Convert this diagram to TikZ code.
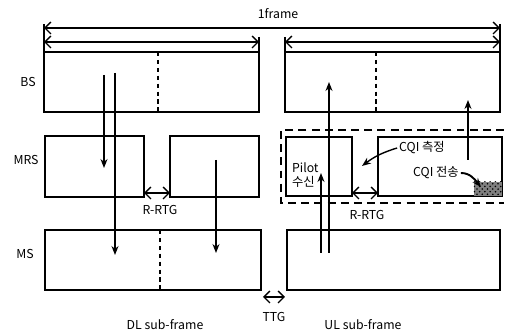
\documentclass[tikz,border=0pt]{standalone}
\usepackage{fontspec}
\setmainfont{Noto Sans CJK KR}
\usetikzlibrary{arrows.meta,patterns}
\tikzset{
  box/.style={draw, line width=0.9pt},
  sep/.style={draw, line width=0.8pt, dash pattern=on 2.5pt off 2pt},
  grp/.style={draw, line width=1.2pt, dash pattern=on 4.5pt off 3pt},
  arr/.style={-{Stealth[length=1.8mm,width=1.4mm]}, line width=0.8pt},
  span/.style={{Straight Barb[length=1.2mm]}-{Straight Barb[length=1.2mm]}, line width=0.8pt},
  lbl/.style={font=\fontsize{7}{8}\selectfont, inner sep=1pt}
}
\begin{document}
\begin{tikzpicture}[x=0.02cm, y=-0.02cm]
  \useasboundingbox (0,0) rectangle (505,334);
  % frame spans
  \draw[line width=0.8pt] (44,24) -- (44,52) (500,24) -- (500,52) (259,37) -- (259,52) (285,37) -- (285,52);
  \coordinate (fl) at (44,28);  \coordinate (fr) at (500,28);
  \coordinate (dl) at (44,42);  \coordinate (dr) at (259,42);
  \coordinate (ul) at (285,42); \coordinate (ur) at (500,42);
  \draw[span] (fl) -- (fr);
  \draw[span] (dl) -- (dr);
  \draw[span] (ul) -- (ur);
  \node[lbl] (frame) at (278,14) {1frame};
  % BS
  \draw[box] (44,52) rectangle (259,112) (285,52) rectangle (500,112);
  \draw[sep] (158,52) -- (158,112) (376,52) -- (376,112);
  % MRS
  \draw[box] (45,136) rectangle (144,197) (170,136) rectangle (259,197);
  \draw[grp] (504,130) -- (281,130) -- (281,203) -- (504,203);
  \draw[box] (286,137) rectangle (352,196) (378,137) rectangle (502,196);
  \fill[black!50] (474,182) rectangle (502,196);
  \fill[pattern=crosshatch dots, pattern color=black] (474,182) rectangle (502,196);
  % MS
  \draw[box] (45,230) rectangle (261,290) (287,230) rectangle (500,290);
  \draw[sep] (160,230) -- (160,290);
  % row names
  \foreach \nm/\t/\x/\y in {bs/BS/28/82, mrs/MRS/26/160, ms/MS/25/254}
    \node[lbl] (\nm) at (\x,\y) {\t};
  % downlink
  \coordinate (d1a) at (104,75);  \coordinate (d1b) at (104,168);
  \coordinate (d2a) at (115,73);  \coordinate (d2b) at (115,255);
  \coordinate (d3a) at (216,160); \coordinate (d3b) at (216,253);
  \draw[arr] (d1a) -- (d1b);
  \draw[arr] (d2a) -- (d2b);
  \draw[arr] (d3a) -- (d3b);
  % uplink
  \coordinate (u1a) at (321,253); \coordinate (u1b) at (321,173);
  \coordinate (u2a) at (329,253); \coordinate (u2b) at (329,82);
  \coordinate (u3a) at (468,160); \coordinate (u3b) at (468,100);
  \draw[arr] (u1a) -- (u1b);
  \draw[arr] (u2a) -- (u2b);
  \draw[arr] (u3a) -- (u3b);
  % gaps
  \coordinate (g1a) at (144,193); \coordinate (g1b) at (170,193);
  \coordinate (g2a) at (352,193); \coordinate (g2b) at (378,193);
  \coordinate (g3a) at (263,297); \coordinate (g3b) at (285,297);
  \draw[span] (g1a) -- (g1b);
  \draw[span] (g2a) -- (g2b);
  \draw[span] (g3a) -- (g3b);
  \node[lbl] (rrtg1) at (160,210) {R-RTG};
  \node[lbl] (rrtg2) at (367,215) {R-RTG};
  \node[lbl] (ttg) at (274,317) {TTG};
  \node[lbl] (dlsub) at (165,325) {DL sub-frame};
  \node[lbl] (ulsub) at (363,325) {UL sub-frame};
  % CQI
  \node[lbl, align=left, anchor=west] (pilot) at (290,175) {Pilot\\수신};
  \node[lbl] (cqim) at (422,148) {CQI 측정};
  \node[lbl] (cqis) at (436,173) {CQI 전송};
  \coordinate (hatch) at (481,187);
  \coordinate (meas) at (362,166);
  \draw[arr] (cqim.west) to[bend right=10] (meas);
  \draw[arr, line width=1.1pt] (cqis.east) to[out=0, in=130] (hatch);
\end{tikzpicture}
\end{document}
